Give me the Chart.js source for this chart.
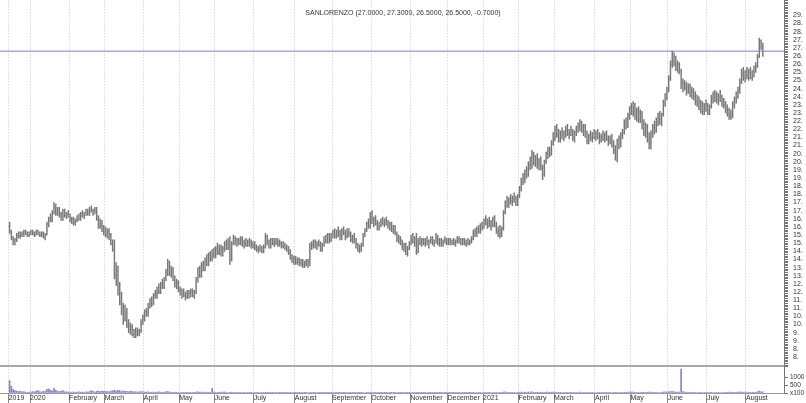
<!DOCTYPE html>
<html><head><meta charset="utf-8">
<script src="https://cdn.jsdelivr.net/npm/chart.js@4.4.1/dist/chart.umd.min.js"></script>
<style>html,body{margin:0;padding:0;background:#fff}#wrap{width:806px;height:403px;position:relative}</style>
</head><body><div id="wrap"><canvas id="c" width="806" height="403"></canvas></div>
<script>
const chartTitle = 'SANLORENZO (27.0000, 27.3000, 26.5000, 26.5000, -0.7000)';
const monthStarts = [0,12,34,54,76,96,116,138,161,182,204,226,247,267,287,307,330,350,371,393,415];
const monthLabels = ['2019','2020','February','March','April','May','June','July','August','September','October','November','December','2021','February','March','April','May','June','July','August'];
const resistanceLevel = 26.8;

const opens = [
16.0,15.7,15.3,15.0,15.2,15.5,15.4,15.6,15.5,15.7,15.6,15.5,
15.6,15.7,15.6,15.5,15.7,15.6,15.5,15.6,15.4,15.6,16.2,16.5,16.4,16.9,17.3,16.8,17.1,16.7,16.5,17.0,16.7,16.8,
16.7,16.4,16.5,16.3,16.4,16.6,16.5,16.8,16.7,16.8,17.0,16.8,17.1,17.0,16.9,17.1,16.5,16.0,16.3,15.8,
15.9,15.5,15.8,15.3,15.0,14.6,13.0,13.5,12.0,11.4,11.0,10.4,10.9,10.0,9.7,9.9,9.5,9.4,9.6,9.4,9.6,10.2,
10.4,10.8,10.6,11.2,11.5,11.3,11.8,11.7,12.2,12.0,12.5,12.3,12.8,13.2,13.8,13.1,13.4,12.8,12.4,12.6,
12.1,11.9,12.1,11.8,11.7,12.0,11.8,12.1,11.8,12.0,12.8,13.3,13.0,13.7,13.4,14.0,13.7,14.3,14.0,14.5,
14.2,14.7,14.4,14.8,14.3,14.7,15.0,14.7,15.2,14.0,15.0,15.3,15.0,15.2,15.0,15.3,14.9,15.1,14.9,15.1,15.0,14.8,
15.0,14.7,14.6,14.7,14.6,14.5,14.8,15.4,15.0,14.8,15.2,15.0,15.1,15.2,14.9,15.0,14.8,14.9,14.7,14.6,14.4,14.1,13.9,
14.1,13.8,14.0,13.7,13.9,13.7,13.8,13.9,13.6,14.8,14.9,15.1,14.8,15.0,14.9,14.6,14.9,15.3,15.1,15.5,15.2,
15.4,15.7,15.4,15.7,15.5,15.3,15.8,15.6,15.4,15.8,15.5,15.2,15.4,15.1,14.8,14.6,14.8,14.9,15.5,15.8,16.2,16.0,
16.7,16.3,16.5,16.2,15.9,16.2,16.4,16.2,16.4,16.2,16.0,16.2,15.8,16.0,15.6,15.2,15.3,15.0,14.7,14.9,14.4,14.7,
15.0,15.4,15.1,15.3,14.5,15.2,15.0,15.2,15.0,15.1,15.0,15.1,15.2,15.0,15.1,15.4,15.0,15.2,14.9,15.1,15.2,
15.0,15.2,15.0,15.1,15.0,15.1,15.3,15.1,15.0,15.2,15.0,15.1,15.0,15.1,15.3,15.7,15.5,15.9,15.7,16.0,
16.1,16.4,16.2,16.3,16.1,16.2,16.5,16.1,15.7,15.9,15.5,15.9,16.9,17.5,17.4,17.7,17.6,17.8,17.6,17.4,
17.9,18.4,18.9,18.8,19.4,19.2,19.8,19.7,20.5,19.9,20.2,19.8,20.0,19.6,19.2,20.0,20.4,20.7,20.5,21.2,
21.6,21.9,21.7,21.4,21.8,21.5,21.8,22.0,21.7,21.9,21.8,21.5,21.8,22.1,22.0,22.4,21.9,22.2,21.6,21.3,21.6,21.5,21.7,
21.6,21.7,21.5,21.3,21.6,21.4,21.7,21.4,21.2,21.5,21.0,20.7,20.4,21.2,21.0,21.6,21.8,22.4,22.2,22.8,
23.2,23.1,23.5,22.8,23.1,22.6,23.0,22.2,21.8,22.2,21.4,21.0,21.7,22.1,21.9,22.5,22.7,22.6,22.9,23.6,24.0,
24.4,25.1,26.0,26.4,26.1,25.8,26.0,25.6,24.7,24.9,24.6,24.3,24.7,24.2,24.4,24.0,23.7,23.9,23.4,23.6,23.1,23.4,
23.3,23.0,23.4,23.9,23.8,24.2,23.8,24.0,23.9,23.6,23.5,23.2,22.9,23.1,22.8,23.5,23.8,24.1,24.4,24.9,25.4,25.2,
25.4,25.3,25.5,25.2,25.4,25.7,25.9,26.5,27.4,27.0
];
const highs = [
16.3,15.8,15.4,15.3,15.6,15.7,15.7,15.7,15.8,15.8,15.7,15.7,
15.8,15.8,15.7,15.8,15.8,15.7,15.7,15.7,15.6,16.3,16.6,16.8,17.0,17.5,17.4,17.2,17.2,16.9,17.1,17.1,16.9,17.0,
16.8,16.6,16.6,16.5,16.7,16.8,16.9,17.0,16.9,17.1,17.1,17.2,17.3,17.1,17.2,17.2,16.7,16.5,16.4,16.1,
16.0,15.9,15.9,15.6,15.2,15.2,13.8,13.6,12.6,12.0,11.3,11.2,11.0,10.3,10.1,10.0,9.7,9.8,9.8,9.7,10.3,10.6,
10.9,11.0,11.3,11.6,11.7,11.9,12.1,12.3,12.5,12.6,12.8,12.9,13.4,14.0,13.9,13.6,13.5,13.0,12.8,12.7,
12.3,12.2,12.2,12.0,12.1,12.1,12.2,12.2,12.1,12.9,13.5,13.6,13.8,13.9,14.1,14.3,14.4,14.5,14.6,14.7,
14.8,15.0,14.9,14.9,14.8,15.1,15.2,15.3,15.4,15.1,15.5,15.4,15.3,15.3,15.4,15.4,15.2,15.3,15.2,15.3,15.2,15.1,
15.1,14.9,14.8,14.9,14.8,14.9,15.6,15.5,15.2,15.3,15.3,15.3,15.3,15.3,15.2,15.1,15.1,15.0,14.9,14.8,14.6,14.3,14.2,
14.2,14.1,14.1,14.0,14.0,13.9,14.0,14.0,15.0,15.1,15.2,15.2,15.1,15.2,15.1,15.0,15.4,15.5,15.6,15.6,15.6,
15.8,15.9,15.8,16.0,15.8,15.9,16.0,15.8,15.9,15.9,15.7,15.5,15.6,15.3,15.0,14.9,15.0,15.6,15.9,16.3,16.5,16.9,
17.0,16.6,16.7,16.4,16.3,16.5,16.6,16.5,16.6,16.4,16.3,16.3,16.1,16.1,15.7,15.5,15.4,15.2,15.0,15.0,14.8,15.1,
15.5,15.6,15.4,15.6,15.3,15.4,15.3,15.3,15.3,15.4,15.2,15.4,15.4,15.2,15.6,15.5,15.3,15.3,15.2,15.4,15.3,
15.3,15.3,15.2,15.3,15.2,15.4,15.4,15.3,15.3,15.3,15.2,15.3,15.2,15.4,15.8,15.9,16.0,16.1,16.2,16.3,
16.5,16.7,16.5,16.6,16.4,16.6,16.7,16.3,16.0,16.1,16.0,17.0,17.6,17.9,17.8,18.0,17.9,18.1,17.9,18.0,
18.5,19.0,19.3,19.5,19.7,20.0,20.3,20.7,20.6,20.4,20.5,20.2,20.3,19.8,20.1,20.6,20.9,20.9,21.3,21.8,
22.2,22.3,22.0,21.9,22.1,21.9,22.2,22.3,22.0,22.2,22.0,21.9,22.2,22.4,22.6,22.5,22.3,22.3,21.9,21.7,21.9,21.8,22.0,
21.9,22.0,21.8,21.7,21.9,21.8,21.9,21.6,21.6,21.7,21.3,21.0,21.4,21.6,21.8,22.0,22.6,22.7,23.0,23.4,
23.6,23.7,23.6,23.3,23.4,23.2,23.1,22.6,22.4,22.3,21.8,21.9,22.3,22.5,22.7,23.0,23.1,23.0,23.8,24.2,24.6,
25.3,26.2,26.8,26.7,26.5,26.2,26.1,25.7,25.1,25.0,24.9,24.8,24.8,24.6,24.5,24.3,24.1,24.0,23.8,23.7,23.6,23.8,
23.6,23.5,24.1,24.3,24.4,24.3,24.2,24.4,24.1,23.9,23.7,23.5,23.3,23.2,23.7,24.0,24.3,24.6,25.1,25.7,25.8,25.6,
25.8,25.7,25.8,25.6,25.9,26.1,26.6,27.6,27.5,27.3
];
const lows = [
15.6,15.2,14.9,14.9,15.1,15.3,15.3,15.4,15.4,15.5,15.4,15.4,
15.5,15.5,15.4,15.5,15.5,15.4,15.4,15.3,15.2,15.5,16.0,16.3,16.3,16.8,16.7,16.7,16.6,16.4,16.4,16.6,16.5,16.6,
16.3,16.2,16.1,16.1,16.3,16.4,16.4,16.6,16.5,16.7,16.7,16.7,16.9,16.7,16.8,16.4,15.9,15.9,15.7,15.5,
15.4,15.3,15.2,14.9,14.5,12.8,12.4,11.8,11.2,10.6,10.0,10.2,9.8,9.5,9.4,9.3,9.2,9.2,9.3,9.3,9.5,10.0,
10.2,10.5,10.5,11.0,11.1,11.2,11.6,11.6,11.9,11.9,12.2,12.2,12.7,13.0,13.0,12.9,12.7,12.3,12.2,12.0,
11.8,11.6,11.7,11.5,11.6,11.6,11.7,11.7,11.6,11.9,12.6,12.9,12.9,13.3,13.3,13.6,13.6,13.9,13.9,14.1,
14.1,14.3,14.3,14.2,14.2,14.5,14.6,14.6,13.7,13.9,14.9,14.9,14.8,14.9,14.9,14.8,14.7,14.8,14.8,14.8,14.7,14.7,
14.6,14.5,14.4,14.5,14.4,14.4,14.7,14.9,14.7,14.7,14.9,14.8,14.9,14.8,14.8,14.7,14.7,14.6,14.5,14.3,14.0,13.8,13.7,
13.7,13.7,13.6,13.6,13.5,13.5,13.6,13.5,13.6,14.6,14.7,14.7,14.6,14.8,14.5,14.5,14.8,15.0,15.0,15.0,15.1,
15.3,15.3,15.3,15.4,15.2,15.2,15.5,15.2,15.3,15.4,15.1,15.0,15.0,14.7,14.5,14.4,14.5,14.8,15.4,15.7,15.9,15.9,
16.2,16.0,16.1,15.8,15.8,16.0,16.1,16.0,16.1,15.9,15.8,15.7,15.6,15.5,15.1,15.0,14.9,14.6,14.5,14.3,14.2,14.6,
14.9,15.0,14.8,14.3,14.4,14.9,14.8,14.9,14.8,14.9,14.7,15.0,14.9,14.8,15.0,14.9,14.8,14.8,14.8,15.0,14.9,
14.9,14.9,14.9,14.9,14.8,15.0,15.0,14.9,14.9,14.9,14.8,14.9,14.9,15.0,15.2,15.4,15.4,15.6,15.6,15.8,
15.9,16.1,15.9,16.0,15.8,16.0,16.0,15.6,15.4,15.3,15.4,15.8,16.8,17.2,17.2,17.4,17.3,17.5,17.3,17.3,
17.8,18.2,18.6,18.7,19.0,19.1,19.5,19.6,19.8,19.7,19.6,19.5,19.5,18.9,19.1,19.9,20.2,20.3,20.4,21.0,
21.3,21.5,21.2,21.2,21.4,21.3,21.5,21.6,21.4,21.6,21.3,21.2,21.6,21.8,21.9,21.8,21.6,21.5,21.1,21.1,21.3,21.2,21.4,
21.3,21.4,21.1,21.2,21.3,21.2,21.3,21.0,21.1,20.9,20.5,20.1,20.0,20.8,20.9,21.4,21.7,22.0,22.1,22.6,
22.9,22.8,22.6,22.5,22.4,22.4,22.0,21.6,21.5,21.2,20.8,20.8,21.5,21.7,21.8,22.2,22.3,22.2,22.8,23.4,23.8,
24.3,25.0,25.8,25.9,25.6,25.5,25.4,24.5,24.3,24.4,24.1,24.2,24.0,23.9,23.8,23.5,23.4,23.2,23.0,22.9,22.9,23.1,
22.9,22.9,23.3,23.6,23.7,23.6,23.5,23.7,23.4,23.3,23.0,22.8,22.6,22.6,22.7,23.3,23.6,23.9,24.2,24.8,25.0,24.9,
25.1,25.0,25.1,25.0,25.2,25.5,25.8,26.4,26.9,26.5
];
const closes = [
15.7,15.3,15.0,15.2,15.5,15.4,15.6,15.5,15.7,15.6,15.5,15.6,
15.7,15.6,15.5,15.7,15.6,15.5,15.6,15.4,15.5,16.2,16.5,16.4,16.9,17.3,16.8,17.1,16.7,16.5,17.0,16.7,16.8,16.7,
16.4,16.5,16.3,16.4,16.6,16.5,16.8,16.7,16.8,17.0,16.8,17.1,17.0,16.9,17.1,16.5,16.0,16.3,15.8,15.9,
15.5,15.8,15.3,15.0,14.6,13.0,13.5,12.0,11.4,11.0,10.4,10.9,10.0,9.7,9.9,9.5,9.4,9.6,9.4,9.6,10.2,10.4,
10.8,10.6,11.2,11.5,11.3,11.8,11.7,12.2,12.0,12.5,12.3,12.8,13.2,13.8,13.1,13.4,12.8,12.4,12.6,12.1,
11.9,12.1,11.8,11.7,12.0,11.8,12.1,11.8,12.0,12.8,13.3,13.0,13.7,13.4,14.0,13.7,14.3,14.0,14.5,14.2,
14.7,14.4,14.8,14.3,14.7,15.0,14.7,15.2,14.0,15.0,15.3,15.0,15.2,15.0,15.3,14.9,15.1,14.9,15.1,15.0,14.8,15.0,
14.7,14.6,14.7,14.6,14.5,14.8,15.4,15.0,14.8,15.2,15.0,15.1,15.2,14.9,15.0,14.8,14.9,14.7,14.6,14.4,14.1,13.9,14.1,
13.8,14.0,13.7,13.9,13.7,13.8,13.9,13.6,14.8,14.9,15.1,14.8,15.0,14.9,14.6,14.9,15.3,15.1,15.5,15.2,15.4,
15.7,15.4,15.7,15.5,15.3,15.8,15.6,15.4,15.8,15.5,15.2,15.4,15.1,14.8,14.6,14.8,14.9,15.5,15.8,16.2,16.0,16.7,
16.3,16.5,16.2,15.9,16.2,16.4,16.2,16.4,16.2,16.0,16.2,15.8,16.0,15.6,15.2,15.3,15.0,14.7,14.9,14.4,14.7,15.0,
15.4,15.1,15.3,14.5,15.2,15.0,15.2,15.0,15.1,15.0,15.1,15.2,15.0,15.1,15.4,15.0,15.2,14.9,15.1,15.2,15.0,
15.2,15.0,15.1,15.0,15.1,15.3,15.1,15.0,15.2,15.0,15.1,15.0,15.1,15.3,15.7,15.5,15.9,15.7,16.0,16.1,
16.4,16.2,16.3,16.1,16.2,16.5,16.1,15.7,15.9,15.5,15.9,16.9,17.5,17.4,17.7,17.6,17.8,17.6,17.4,17.9,
18.4,18.9,18.8,19.4,19.2,19.8,19.7,20.5,19.9,20.2,19.8,20.0,19.6,19.2,20.0,20.4,20.7,20.5,21.2,21.6,
21.9,21.7,21.4,21.8,21.5,21.8,22.0,21.7,21.9,21.8,21.5,21.8,22.1,22.0,22.4,21.9,22.2,21.6,21.3,21.6,21.5,21.7,21.6,
21.7,21.5,21.3,21.6,21.4,21.7,21.4,21.2,21.5,21.0,20.7,20.4,21.2,21.0,21.6,21.8,22.4,22.2,22.8,23.2,
23.1,23.5,22.8,23.1,22.6,23.0,22.2,21.8,22.2,21.4,21.0,21.7,22.1,21.9,22.5,22.7,22.6,22.9,23.6,24.0,24.4,
25.1,26.0,26.4,26.1,25.8,26.0,25.6,24.7,24.9,24.6,24.3,24.7,24.2,24.4,24.0,23.7,23.9,23.4,23.6,23.1,23.4,23.3,
23.0,23.4,23.9,23.8,24.2,23.8,24.0,23.9,23.6,23.5,23.2,22.9,23.1,22.8,23.5,23.8,24.1,24.4,24.9,25.4,25.2,25.4,
25.3,25.5,25.2,25.4,25.7,25.9,26.5,27.4,27.2,26.5
];
// volume in hundreds of shares (axis unit x100)
const volumes = [
780,420,210,150,120,90,110,70,80,60,40,50,
60,90,70,120,150,80,60,110,90,230,260,180,140,300,170,120,90,110,150,80,70,60,
60,50,70,40,60,80,50,60,40,70,60,90,150,100,60,110,130,90,120,100,
110,90,80,120,140,180,120,160,150,90,140,110,100,80,120,90,70,80,60,70,90,80,
60,50,70,40,50,60,40,50,70,50,40,60,80,90,60,50,40,50,40,30,
30,40,30,20,30,40,30,30,20,60,70,50,60,40,50,40,50,40,300,50,
40,30,40,60,50,70,40,30,40,50,40,30,40,30,40,30,20,30,40,30,20,30,
20,30,20,30,20,30,50,40,20,30,20,30,20,30,20,20,30,20,20,30,20,30,20,
20,30,20,20,30,20,20,30,40,30,20,20,30,20,20,30,40,20,30,20,20,
30,20,30,20,20,30,20,20,30,20,20,30,20,20,30,20,20,30,30,40,30,50,
40,30,20,30,20,20,30,20,20,30,20,20,30,20,30,20,20,30,20,30,20,20,
30,20,30,40,30,20,30,20,20,30,20,20,30,20,20,30,20,20,30,20,20,
20,30,20,20,30,20,20,30,20,20,30,20,20,30,40,30,30,40,30,30,
40,30,30,40,30,30,30,40,30,40,30,60,70,40,30,40,30,40,30,40,
50,60,40,50,40,60,50,70,40,40,50,40,40,50,40,50,60,40,50,60,
50,40,30,40,30,40,30,40,30,40,30,30,40,30,50,30,40,30,40,30,30,40,30,
30,30,20,30,20,30,20,30,20,30,40,50,40,30,40,30,50,40,50,60,
60,50,40,30,40,30,40,50,40,50,60,50,40,30,40,30,30,40,60,70,60,
80,90,100,70,60,50,60,1500,90,60,50,40,40,30,40,30,30,40,30,30,30,40,
30,30,40,30,30,40,30,30,30,30,40,40,50,40,50,40,40,50,60,60,50,50,
50,40,40,50,40,50,70,120,80,70
];

const X_MIN = -5.4, X_MAX = 435.9;
const P_MIN = 7.45, P_MAX = 29.92;
const V_MAX = 1690;
const BAR_COLOR = '#777777';
const TICK_COLOR = '#9a9a9a';

function tickImage(side) {
  const c = document.createElement('canvas');
  c.width = 3; c.height = 1;
  const g = c.getContext('2d');
  g.fillStyle = TICK_COLOR;
  g.fillRect(side < 0 ? 0 : 2, 0, 1, 1);
  return c;
}
function noPad(s) { s.paddingTop = 0; s.paddingBottom = 0; s.paddingLeft = 0; s.paddingRight = 0; }

Chart.defaults.font.family = "'Liberation Sans', Arial, sans-serif";
Chart.defaults.color = '#333';

const hlData = highs.map((h, i) => ({x: i, y: [lows[i], h]}));
const openData = opens.map((o, i) => ({x: i, y: o}));
const closeData = closes.map((c, i) => ({x: i, y: c}));
const volData = volumes.map((v, i) => ({x: i, y: v}));

new Chart(document.getElementById('c'), {
  type: 'bar',
  data: {
    datasets: [
      {type: 'line', data: [{x: X_MIN, y: resistanceLevel}, {x: X_MAX, y: resistanceLevel}],
       yAxisID: 'y', borderColor: '#7f7fc4', borderWidth: 1, pointRadius: 0, order: 0},
      {type: 'bar', data: hlData, yAxisID: 'y', backgroundColor: BAR_COLOR, borderWidth: 0,
       barThickness: 0.8, grouped: false, order: 2},
      {type: 'scatter', data: openData, yAxisID: 'y', pointStyle: tickImage(-1), pointRadius: 1, order: 1},
      {type: 'scatter', data: closeData, yAxisID: 'y', pointStyle: tickImage(1), pointRadius: 1, order: 1},
      {type: 'bar', data: volData, yAxisID: 'yv', backgroundColor: '#8a80c8', borderWidth: 0,
       barThickness: 1, grouped: false, order: 2}
    ]
  },
  options: {
    responsive: false,
    animation: false,
    events: [],
    layout: {padding: 0, autoPadding: false},
    plugins: {
      legend: {display: false},
      tooltip: {enabled: false},
      title: {display: true, text: chartTitle, color: '#333', font: {size: 7, weight: 'normal'},
              padding: {top: 9, bottom: -17}}
    },
    scales: {
      x: {
        type: 'linear', position: 'bottom', min: X_MIN, max: X_MAX, offset: false,
        afterBuildTicks: s => { s.ticks = monthStarts.map(m => ({value: m - 0.5})); },
        afterFit: s => { s.height = 10; noPad(s); },
        ticks: {callback: (v, i) => monthLabels[i], align: 'start', autoSkip: false, maxRotation: 0,
                font: {size: 7}, color: '#333', padding: -9},
        grid: {offset: false, color: '#c4c4c4', tickColor: '#888', tickLength: 10, tickBorderDash: []},
        border: {display: true, color: '#999', dash: [1, 2]}
      },
      y: {
        type: 'linear', position: 'right', stack: 'pane', stackWeight: 366, weight: 1,
        min: P_MIN, max: P_MAX,
        afterBuildTicks: s => { const t = []; for (let k = 76; k <= 299; k++) t.push({value: k / 10}); s.ticks = t; },
        afterFit: s => { s.width = 22; noPad(s); },
        ticks: {autoSkip: false, font: {size: 7}, color: '#333', padding: 5,
                callback: v => { const h = Math.round(v * 10); return (h % 5 === 0 && h >= 80 && h <= 290) ? Math.floor(h / 10) + '.' : ''; }},
        grid: {drawOnChartArea: false, tickLength: 4, color: '#777'},
        border: {display: true, color: '#777'}
      },
      yv: {
        type: 'linear', position: 'right', stack: 'pane', stackWeight: 27, weight: 2,
        min: 0, max: V_MAX,
        afterBuildTicks: s => { s.ticks = [{value: 0}, {value: 500}, {value: 1000}, {value: V_MAX}]; },
        afterFit: s => { s.width = 22; noPad(s); },
        ticks: {autoSkip: false, font: {size: 6.5}, color: '#333', padding: 2,
                callback: v => v === 0 ? 'x100' : (v === 500 ? '500' : (v === 1000 ? '1000' : ''))},
        grid: {drawOnChartArea: true, tickLength: 4, tickColor: '#777',
               color: c => (c.tick && c.tick.value === V_MAX) ? '#a8a8a8' : 'rgba(0,0,0,0)',
               lineWidth: c => (c.tick && c.tick.value === V_MAX) ? 2 : 1},
        border: {display: true, color: '#777'}
      }
    }
  }
});
</script>
</body></html>
